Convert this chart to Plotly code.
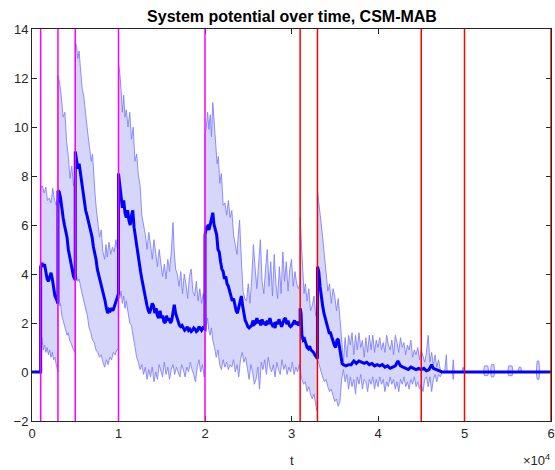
import plotly.graph_objects as go

# ---------------- data ----------------
title_text = "System potential over time, CSM-MAB"
x_label = "t"

# mean potential (t, value)
mean_pts = [
    (0, 0), (1000, 0), (1000, 4.3), (1150, 4.45), (1300, 4.3), (1450, 4.4), (1600, 4.1), (1750, 3.8),
    (1900, 3.7), (2050, 3.9), (2200, 4.05), (2350, 3.8), (2500, 3.4), (2650, 3.1), (2800, 3.0),
    (2950, 2.85), (3000, 2.8), (3000, 7.4), (3150, 7.35), (3300, 7.1), (3450, 6.6), (3600, 6.3),
    (3750, 6.0), (3900, 5.8), (4050, 5.5), (4200, 5.0), (4350, 4.7), (4500, 4.4), (4650, 4.1),
    (4800, 3.9), (4950, 3.8), (5000, 3.8), (5000, 9.0), (5150, 8.7), (5300, 8.3), (5450, 8.5),
    (5600, 8.1), (5750, 7.9), (5900, 7.5), (6050, 7.0), (6200, 6.6), (6350, 6.4), (6500, 6.2),
    (6650, 6.0), (6800, 5.8), (6950, 5.5), (7100, 5.1), (7250, 4.9), (7400, 4.6), (7550, 4.2),
    (7700, 4.0), (7850, 3.7), (8000, 3.5), (8150, 3.3), (8300, 3.1), (8450, 2.9), (8600, 2.6),
    (8750, 2.4), (8900, 2.55), (9050, 2.5), (9200, 2.6), (9350, 2.5), (9500, 2.65), (9650, 2.8),
    (9800, 3.0), (9950, 3.1), (10000, 3.2), (10000, 8.1), (10150, 7.6), (10300, 7.1), (10450, 6.7),
    (10600, 7.0), (10750, 6.5), (10900, 6.3), (11050, 6.6), (11200, 6.2), (11350, 6.0), (11500, 6.4),
    (11650, 6.6), (11800, 5.9), (11950, 5.5), (12100, 5.2), (12250, 4.7), (12400, 4.4), (12550, 4.1),
    (12700, 3.8), (12850, 3.5), (13000, 3.2), (13150, 2.9), (13300, 2.7), (13450, 2.5), (13600, 2.4),
    (13750, 2.6), (13900, 2.8), (14050, 2.7), (14200, 2.4), (14350, 2.6), (14500, 2.3), (14650, 2.2),
    (14800, 2.5), (14950, 2.2), (15100, 2.3), (15250, 2.05), (15400, 2.0), (15550, 2.3), (15700, 2.1),
    (15850, 2.2), (16000, 2.0), (16150, 2.1), (16300, 2.4), (16450, 2.75), (16600, 2.4), (16750, 2.2),
    (16900, 2.05), (17050, 1.9), (17200, 1.85), (17350, 1.9), (17500, 1.8), (17650, 1.7), (17800, 1.75),
    (17950, 1.85), (18100, 1.7), (18250, 1.75), (18400, 1.65), (18550, 1.7), (18700, 1.8), (18850, 1.75),
    (19000, 1.65), (19150, 1.7), (19300, 1.85), (19450, 1.75), (19600, 1.7), (19750, 1.8), (19900, 1.75),
    (20000, 1.75), (20000, 5.6), (20150, 5.9), (20300, 5.95), (20450, 5.8), (20600, 6.0), (20750, 6.3),
    (20900, 6.5), (21050, 6.0), (21200, 5.8), (21350, 5.6), (21500, 5.0), (21650, 4.9), (21800, 4.5),
    (21950, 4.2), (22100, 4.1), (22250, 3.8), (22400, 3.9), (22550, 3.6), (22700, 3.5), (22850, 3.3),
    (23000, 3.2), (23150, 2.9), (23300, 3.0), (23450, 2.7), (23600, 2.5), (23750, 2.4), (23900, 2.6),
    (24050, 2.9), (24200, 3.1), (24350, 2.7), (24500, 2.3), (24650, 2.1), (24800, 2.0), (24950, 1.85),
    (25100, 1.8), (25250, 1.85), (25400, 1.9), (25550, 2.1), (25700, 1.95), (25850, 2.0), (26000, 2.2),
    (26150, 2.0), (26300, 2.1), (26450, 1.9), (26600, 2.15), (26750, 1.95), (26900, 2.05), (27050, 1.9),
    (27200, 2.1), (27350, 1.95), (27500, 2.2), (27650, 2.0), (27800, 1.9), (27950, 1.95), (28100, 1.8),
    (28250, 2.05), (28400, 1.95), (28550, 2.15), (28700, 2.0), (28850, 1.85), (29000, 2.0), (29150, 2.15),
    (29300, 2.2), (29450, 1.95), (29600, 2.1), (29750, 1.9), (29900, 1.85), (30050, 1.9), (30200, 2.0),
    (30350, 2.1), (30500, 1.95), (30650, 2.05), (30800, 1.9), (30950, 2.0), (31000, 2.0), (31000, 2.6),
    (31100, 2.4), (31200, 1.5), (31350, 1.3), (31500, 1.35), (31650, 1.2), (31800, 1.0), (31950, 0.95),
    (32100, 1.05), (32250, 0.9), (32400, 0.85), (32550, 0.8), (32700, 0.7), (32850, 0.6), (33000, 0.55),
    (33000, 4.3), (33150, 4.1), (33300, 3.5), (33450, 3.0), (33600, 2.7), (33750, 2.4), (33900, 2.2),
    (34050, 1.9), (34200, 1.8), (34350, 1.6), (34500, 1.6), (34650, 1.4), (34800, 1.3), (34950, 1.1),
    (35100, 1.0), (35250, 1.3), (35400, 1.35), (35550, 1.0), (35700, 0.7), (35850, 0.35), (36000, 0.3),
    (36300, 0.25), (36600, 0.3), (36900, 0.3), (37200, 0.45), (37500, 0.35), (37800, 0.45), (38100, 0.4),
    (38400, 0.35), (38700, 0.4), (39000, 0.3), (39300, 0.35), (39600, 0.25), (39900, 0.3), (40200, 0.25),
    (40500, 0.3), (40800, 0.2), (41100, 0.25), (41400, 0.15), (41700, 0.2), (42000, 0.25), (42300, 0.45),
    (42600, 0.25), (42900, 0.2), (43200, 0.15), (43500, 0.1), (43800, 0.2), (44100, 0.15), (44400, 0.1),
    (44700, 0.15), (45000, 0.1), (45300, 0.15), (45600, 0.05), (45900, 0.1), (46200, 0.3), (46400, 0.15),
    (46700, 0.1), (47000, 0.05), (47400, 0.0), (60000, 0.0),
]

# upper edge of the band (t, value)
upper_pts = [
    (0, 0), (1000, 0), (1000, 7.5), (1200, 7.6), (1400, 7.3), (1600, 7.55), (1800, 7.0), (2000, 7.1),
    (2200, 6.9), (2400, 7.5), (2600, 7.0), (2800, 6.8), (2950, 7.1), (3000, 7.1), (3000, 12.1),
    (3200, 11.8), (3400, 11.2), (3600, 10.4), (3800, 10.6), (4000, 9.4), (4200, 8.8), (4400, 7.9),
    (4600, 8.4), (4800, 7.6), (4950, 7.9), (5000, 7.9), (5000, 13.5), (5150, 13.3), (5300, 12.8),
    (5450, 13.1), (5600, 12.4), (5800, 11.6), (6000, 11.2), (6150, 10.8), (6300, 10.2), (6500, 9.6),
    (6700, 9.0), (6850, 8.6), (7000, 8.9), (7150, 7.8), (7300, 7.2), (7450, 6.6), (7600, 6.2),
    (7800, 5.5), (8000, 5.8), (8200, 4.9), (8400, 4.6), (8550, 5.2), (8700, 4.7), (8900, 5.3),
    (9100, 4.8), (9300, 5.1), (9500, 4.9), (9700, 5.4), (9900, 5.0), (10000, 5.2), (10000, 12.6),
    (10150, 12.2), (10300, 11.5), (10450, 10.6), (10600, 11.3), (10750, 10.4), (10900, 10.7),
    (11100, 10.0), (11300, 10.6), (11500, 9.5), (11700, 10.0), (11900, 8.6), (12100, 8.9), (12300, 8.0),
    (12500, 7.6), (12700, 6.4), (12900, 6.0), (13100, 5.6), (13300, 5.0), (13500, 5.7), (13700, 5.2),
    (13900, 4.6), (14100, 5.4), (14300, 4.8), (14500, 4.3), (14700, 5.0), (14900, 4.4), (15100, 3.9),
    (15300, 4.4), (15500, 3.8), (15700, 4.6), (15900, 4.1), (16100, 4.9), (16300, 6.1), (16450, 4.9),
    (16600, 4.2), (16800, 4.0), (17000, 3.5), (17200, 4.1), (17400, 3.2), (17600, 4.0), (17800, 3.6),
    (18000, 3.0), (18200, 3.9), (18400, 4.2), (18600, 3.3), (18800, 3.1), (19000, 3.7), (19200, 2.9),
    (19400, 3.4), (19600, 2.8), (19800, 3.2), (19950, 2.9), (20000, 2.9), (20000, 9.7), (20150, 10.0),
    (20300, 10.6), (20450, 9.9), (20600, 10.5), (20750, 9.6), (20900, 11.0), (21050, 10.1), (21200, 9.3),
    (21400, 8.5), (21550, 8.8), (21700, 7.7), (21900, 8.1), (22100, 6.8), (22300, 6.9), (22500, 6.4),
    (22700, 7.0), (22900, 6.3), (23100, 6.6), (23300, 5.6), (23500, 5.2), (23700, 4.8), (23850, 5.6),
    (24000, 6.2), (24200, 4.6), (24400, 3.3), (24600, 3.0), (24800, 2.9), (25000, 3.6), (25200, 2.8),
    (25400, 3.8), (25600, 5.2), (25800, 4.2), (26000, 3.4), (26200, 4.4), (26400, 5.4), (26600, 3.7),
    (26800, 3.2), (27000, 4.2), (27200, 5.0), (27400, 3.5), (27600, 4.5), (27800, 3.1), (28000, 4.8),
    (28200, 3.6), (28400, 3.0), (28600, 4.3), (28800, 3.2), (29000, 4.9), (29200, 3.7), (29400, 4.5),
    (29600, 3.3), (29800, 4.2), (30000, 4.6), (30200, 3.5), (30400, 4.1), (30600, 3.6), (30800, 3.4),
    (31000, 3.6), (31000, 6.3), (31150, 5.2), (31300, 3.8), (31450, 3.2), (31600, 3.6), (31800, 2.9),
    (32000, 3.4), (32200, 2.5), (32400, 2.7), (32600, 3.1), (32800, 2.3), (33000, 2.6), (33000, 7.4),
    (33150, 7.0), (33300, 6.6), (33450, 6.0), (33600, 5.5), (33800, 4.8), (34000, 4.0), (34200, 3.3),
    (34400, 3.6), (34600, 2.8), (34800, 3.4), (35000, 3.1), (35200, 2.5), (35400, 3.0), (35600, 2.2),
    (35800, 1.3), (36000, 0.4), (36200, 1.4), (36400, 0.6), (36600, 1.5), (36800, 1.1), (37000, 1.6),
    (37200, 0.7), (37400, 1.5), (37600, 0.9), (37800, 1.6), (38000, 1.0), (38200, 1.3), (38400, 0.6),
    (38600, 1.4), (38800, 0.8), (39000, 1.5), (39200, 0.9), (39400, 1.5), (39600, 0.8), (39800, 1.3),
    (40000, 1.0), (40200, 1.4), (40400, 0.9), (40600, 1.2), (40800, 0.8), (41000, 1.5), (41200, 1.1),
    (41400, 0.9), (41600, 1.3), (41800, 0.7), (42000, 1.5), (42200, 1.2), (42400, 0.8), (42600, 1.4),
    (42800, 1.0), (43000, 1.2), (43200, 0.7), (43400, 1.1), (43600, 0.9), (43800, 1.3), (44000, 0.6),
    (44200, 0.9), (44400, 0.7), (44600, 1.0), (44800, 0.5), (45000, 0.9), (45200, 0.6), (45400, 0.4),
    (45600, 0.8), (45800, 1.5), (46000, 0.4), (46200, 0.8), (46400, 0.3), (46600, 0.7), (46800, 0.2),
    (47000, 0.5), (47200, 0.1), (47400, 0.0), (47700, 0.0), (47900, 0.7), (48000, 0.0), (48600, 0.0),
    (48700, 0.5), (48800, 0.0), (49700, 0.0), (49850, 0.2), (50000, 0.0), (52200, 0.0), (52300, 0.25),
    (52700, 0.25), (52800, 0.0), (53000, 0.0), (53100, 0.3), (53400, 0.3), (53500, 0.0), (55000, 0.0),
    (55100, 0.25), (55500, 0.25), (55600, 0.0), (56200, 0.0), (56300, 0.2), (56500, 0.2), (56600, 0.0),
    (58300, 0.0), (58400, 0.45), (58600, 0.45), (58700, 0.0), (60000, 0.0),
]

# lower edge of the band (t, value)
lower_pts = [
    (0, 0), (1000, 0), (1000, 1.2), (1150, 1.4), (1300, 0.9), (1450, 1.1), (1600, 0.8), (1750, 1.0),
    (1900, 0.7), (2050, 0.9), (2200, 0.6), (2350, 0.8), (2500, 0.5), (2650, 0.6), (2800, 0.3),
    (2950, 0.05), (3000, 0.0), (3000, 2.9), (3150, 2.7), (3300, 2.8), (3450, 2.3), (3600, 2.1),
    (3750, 1.9), (3900, 1.7), (4050, 1.5), (4200, 1.6), (4350, 1.3), (4500, 1.2), (4650, 1.0),
    (4800, 0.9), (4950, 0.8), (5000, 0.8), (5000, 4.0), (5150, 3.9), (5300, 3.7), (5450, 3.8),
    (5600, 3.5), (5800, 3.2), (6000, 2.8), (6200, 2.5), (6400, 2.3), (6600, 1.8), (6800, 1.6),
    (7000, 1.3), (7200, 1.2), (7400, 0.9), (7600, 0.8), (7800, 0.6), (8000, 0.7), (8200, 0.4),
    (8400, 0.2), (8600, 0.5), (8800, 0.3), (9000, 0.6), (9200, 0.5), (9400, 0.8), (9600, 0.7),
    (9800, 0.9), (10000, 0.95), (10000, 3.2), (10150, 3.0), (10300, 3.3), (10450, 2.8), (10600, 3.1),
    (10750, 2.6), (10900, 2.9), (11100, 2.4), (11300, 2.0), (11500, 1.9), (11700, 1.4), (11900, 1.1),
    (12100, 0.6), (12300, 0.4), (12500, 0.1), (12700, 0.3), (12900, -0.1), (13100, 0.2), (13300, -0.3),
    (13500, 0.1), (13700, -0.2), (13900, 0.2), (14100, -0.4), (14300, 0.0), (14500, -0.3), (14700, 0.3),
    (14900, 0.0), (15100, -0.2), (15300, 0.4), (15500, -0.1), (15700, 0.2), (15900, -0.3), (16100, 0.1),
    (16300, 0.3), (16500, -0.1), (16700, 0.2), (16900, 0.0), (17100, -0.2), (17300, 0.3), (17500, 0.1),
    (17700, -0.2), (17900, 0.2), (18100, 0.0), (18300, 0.4), (18500, 0.1), (18700, -0.1), (18900, -0.4),
    (19100, 0.2), (19300, 0.5), (19500, 0.0), (19700, 0.3), (19900, -0.2), (20000, 0.1), (20000, 1.6),
    (20150, 1.9), (20300, 2.2), (20450, 1.7), (20600, 1.5), (20750, 1.8), (20900, 1.3), (21100, 1.0),
    (21300, 0.6), (21500, 0.9), (21700, 0.3), (21900, 0.1), (22100, 0.5), (22300, 0.2), (22500, 0.4),
    (22700, 0.1), (22900, 0.3), (23100, 0.2), (23300, 0.5), (23500, 0.0), (23700, 0.3), (23900, -0.2),
    (24100, 0.5), (24300, 0.8), (24500, 0.4), (24700, 0.6), (24900, 0.1), (25100, -0.3), (25300, 0.3),
    (25500, 0.0), (25700, -0.5), (25900, -0.3), (26100, 0.2), (26300, -0.7), (26500, 0.4), (26700, 0.1),
    (26900, 0.5), (27100, -0.1), (27300, 0.6), (27500, 0.2), (27700, 0.0), (27900, 0.3), (28100, -0.2),
    (28300, 0.4), (28500, 0.1), (28700, -0.1), (28900, 0.5), (29100, 0.1), (29300, 0.3), (29500, -0.1),
    (29700, 0.2), (29900, 0.0), (30100, 0.4), (30300, -0.1), (30500, 0.2), (30700, 0.0), (30900, 0.3),
    (31000, 0.1), (31200, -0.3), (31400, -0.5), (31600, -0.4), (31800, -0.8), (32000, -0.6),
    (32200, -0.9), (32400, -1.1), (32600, -0.9), (32800, -1.4), (32950, -1.6), (33000, -1.2),
    (33000, 0.5), (33200, 0.3), (33400, 0.0), (33600, -0.2), (33800, -0.4), (34000, -0.3), (34200, -0.6),
    (34400, -0.8), (34600, -0.7), (34800, -1.0), (35000, -1.2), (35200, -1.1), (35400, -1.4),
    (35600, -1.2), (35800, -0.3), (36000, 0.1), (36200, -0.4), (36400, -0.1), (36600, -0.7),
    (36800, -0.2), (37000, -0.6), (37200, -0.3), (37400, -0.9), (37600, -0.2), (37800, -0.5),
    (38000, -0.1), (38200, -0.7), (38400, -0.3), (38600, -0.4), (38800, -0.8), (39000, -0.3),
    (39200, -0.5), (39400, -0.2), (39600, -0.7), (39800, -0.3), (40000, -0.6), (40200, -0.2),
    (40400, -0.5), (40600, -0.3), (40800, -0.8), (41000, -0.4), (41200, -0.6), (41400, -0.2),
    (41600, -0.5), (41800, -0.3), (42000, -0.7), (42200, -0.4), (42400, -0.8), (42600, -0.3),
    (42800, -0.5), (43000, -0.2), (43200, -0.6), (43400, -0.4), (43600, -0.7), (43800, -0.3),
    (44000, -0.5), (44200, -0.2), (44400, -0.6), (44600, -0.4), (44800, -0.7), (45000, -0.5),
    (45200, -0.8), (45400, -0.3), (45600, -0.2), (45800, -0.6), (46000, -0.2), (46200, -0.8),
    (46400, -0.3), (46600, -0.1), (46800, -0.4), (47000, -0.1), (47200, -0.2), (47400, 0.0),
    (48600, 0.0), (48700, -0.3), (48800, 0.0), (52200, 0.0), (52300, -0.15), (52700, -0.15),
    (52800, 0.0), (53000, 0.0), (53100, -0.2), (53400, -0.2), (53500, 0.0), (55000, 0.0),
    (55100, -0.15), (55500, -0.15), (55600, 0.0), (58300, 0.0), (58400, -0.3), (58600, -0.3),
    (58700, 0.0), (60000, 0.0),
]

# event markers
magenta_events = [1000, 3000, 5000, 10000, 20000]
red_events = [31000, 33000, 45000, 50000, 60000]

x_tickvals = [0, 10000, 20000, 30000, 40000, 50000, 60000]
x_ticktext = ["0", "1", "2", "3", "4", "5", "6"]
y_tickvals = [-2, 0, 2, 4, 6, 8, 10, 12, 14]

# ---------------- figure ----------------
mean_t = [p[0] for p in mean_pts]
mean_v = [p[1] for p in mean_pts]
upper_t = [p[0] for p in upper_pts]
upper_v = [p[1] for p in upper_pts]
lower_t = [p[0] for p in lower_pts]
lower_v = [p[1] for p in lower_pts]

FONT = "Liberation Sans, Arial, Helvetica, sans-serif"
AX = "#262626"

fig = go.Figure()

# shaded band
fig.add_trace(go.Scatter(
    x=upper_t + lower_t[::-1], y=upper_v + lower_v[::-1],
    fill="toself", fillcolor="rgba(214,214,250,1)", line=dict(width=0),
    mode="lines", hoverinfo="skip", showlegend=False))
# band edges
for tt, vv in ((upper_t, upper_v), (lower_t, lower_v)):
    fig.add_trace(go.Scatter(x=tt, y=vv, mode="lines",
                             line=dict(color="rgba(125,125,255,0.85)", width=1),
                             showlegend=False))
# mean
fig.add_trace(go.Scatter(x=mean_t, y=mean_v, mode="lines",
                         line=dict(color="#0000ff", width=3), showlegend=False))

for ev in magenta_events:
    fig.add_shape(type="line", x0=ev, x1=ev, y0=0, y1=1, xref="x", yref="paper",
                  line=dict(color="#ff00ff", width=1.5), layer="above")
for ev in red_events:
    fig.add_shape(type="line", x0=ev, x1=ev, y0=0, y1=1, xref="x", yref="paper",
                  line=dict(color="#ff0000", width=1.5), layer="above")

fig.update_layout(
    width=555, height=470,
    margin=dict(l=32, r=4, t=29, b=49, autoexpand=False),
    paper_bgcolor="white", plot_bgcolor="white",
    font=dict(family=FONT, size=13, color=AX),
    title=dict(text="<b>" + title_text + "</b>", x=292 / 555, xanchor="center",
               y=1 - 16 / 470, yanchor="middle", yref="container",
               font=dict(family=FONT, size=16, color="black")),
    showlegend=False,
    hovermode=False,
)
fig.update_xaxes(range=[0, 60000], tickvals=x_tickvals, ticktext=x_ticktext,
                 automargin=False,
                 showline=True, linecolor=AX, linewidth=1, mirror="ticks",
                 ticks="inside", ticklen=5, tickcolor=AX, showgrid=False, zeroline=False,
                 tickfont=dict(size=13, color=AX))
fig.update_yaxes(range=[-2, 14], tickvals=y_tickvals,
                 automargin=False,
                 showline=True, linecolor=AX, linewidth=1, mirror="ticks",
                 ticks="inside", ticklen=5, tickcolor=AX, showgrid=False, zeroline=False,
                 tickfont=dict(size=13, color=AX))

fig.add_annotation(text=x_label, xref="paper", yref="paper", x=0.5, y=-0.10,
                   xanchor="center", yanchor="middle", showarrow=False,
                   font=dict(family=FONT, size=13, color=AX))
fig.add_annotation(text="×10<sup>4</sup>", xref="paper", yref="paper", x=1.0, y=-0.10,
                   xanchor="right", yanchor="middle", showarrow=False, xshift=1,
                   font=dict(family=FONT, size=13, color=AX))

fig.write_html("out.html", config={"displayModeBar": False},
               post_script="document.body.style.margin='0';document.body.style.overflow='hidden';")
